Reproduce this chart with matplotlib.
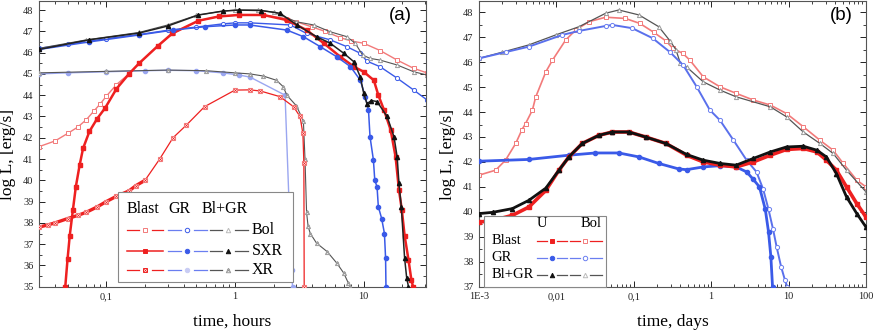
import numpy as np
import matplotlib
matplotlib.use("Agg")
import matplotlib.pyplot as plt
from matplotlib.lines import Line2D
from matplotlib.patches import Rectangle
from matplotlib.ticker import LogLocator, NullFormatter, MultipleLocator

plt.rcParams['font.family'] = ['Liberation Serif', 'DejaVu Serif']

# ---------------- Panel (a): time in hours ----------------
a_blast_bol_t = [0.03, 0.04, 0.05, 0.06, 0.07, 0.08, 0.09, 0.1, 0.12, 0.15, 0.18, 0.25, 0.33, 0.52, 0.75,
                 1.07, 1.66, 2.5, 3.0, 4.0, 5.0, 6.6, 8.0, 10, 13.4, 18.2, 24.5, 31]
a_blast_bol_L = [41.58, 41.85, 42.2, 42.5, 42.85, 43.25, 43.6, 43.95, 44.5, 45.0, 45.5, 46.3, 46.9, 47.5, 47.7,
                 47.77, 47.77, 47.6, 47.45, 47.2, 47.0, 46.7, 46.55, 46.44, 46.1, 45.65, 45.26, 45.05]

a_blast_sxr_t = [0.048, 0.05, 0.052, 0.055, 0.058, 0.062, 0.066, 0.074, 0.085, 0.098, 0.12, 0.15, 0.18, 0.25,
                 0.325, 0.52, 0.75, 1.07, 1.66, 2.53, 3.6, 4.9, 6.6, 8.4, 10, 12, 13.0, 14.4, 16.2, 17.7,
                 18.8, 19.8, 20.8, 22.3, 23.5, 24.2]
a_blast_sxr_L = [35.0, 36.3, 37.4, 38.6, 39.7, 40.7, 41.5, 42.3, 42.9, 43.4, 44.3, 45.0, 45.5, 46.3,
                 46.9, 47.5, 47.7, 47.77, 47.77, 47.53, 47.06, 46.44, 45.8, 45.34, 45.1, 44.7, 44.0, 43.3, 42.37, 41.1,
                 39.55, 38.6, 37.4, 36.26, 35.3, 35.0]

a_blast_xr_t = [0.03, 0.035, 0.04, 0.05, 0.06, 0.07, 0.085, 0.1, 0.12, 0.15, 0.17, 0.2, 0.26, 0.33, 0.42, 0.58,
                1.0, 1.3, 1.57, 2.24, 2.85, 3.2, 3.37, 3.43, 3.45]
a_blast_xr_L = [37.8, 37.9, 38.0, 38.2, 38.35, 38.5, 38.75, 39.0, 39.25, 39.5, 39.75, 40.0, 41.0, 42.0, 42.6, 43.46,
                44.24, 44.25, 44.2, 43.93, 43.46, 43.0, 42.2, 40.8, 35.0]

a_gr_bol_t = [0.03, 0.05, 0.1, 0.18, 0.3, 0.5, 0.8, 1.0, 1.3, 2.7, 3.6, 5.5, 7.4, 9.4, 10.6, 13.4, 18.2, 24.5, 31]
a_gr_bol_L = [46.2, 46.4, 46.65, 46.85, 47.05, 47.2, 47.35, 47.4, 47.4, 47.3, 46.9, 46.6, 46.28, 45.97, 45.6,
              45.34, 44.8, 44.24, 43.78]

a_gr_sxr_t = [0.03, 0.073, 0.18, 0.33, 0.59, 1.0, 1.3, 2.53, 3.4, 4.6, 6.2, 7.9, 9.4, 10.3, 10.9, 11.2, 11.9,
              12.2, 12.7, 13.0, 13.8, 14.5, 14.8, 14.9]
a_gr_sxr_L = [46.15, 46.5, 46.83, 47.06, 47.22, 47.3, 47.3, 47.06, 46.75, 46.28, 45.8, 45.34, 44.71, 43.93, 43.3,
              42.05, 40.96, 40.0, 39.7, 38.76, 38.2, 37.5, 36.34, 35.0]

a_gr_xr_t = [0.03, 0.05, 0.1, 0.2, 0.3, 0.5, 0.8, 1.07, 1.31, 2.45, 2.75, 2.8]
a_gr_xr_L = [45.0, 45.05, 45.1, 45.15, 45.17, 45.15, 45.05, 44.95, 44.85, 44.0, 35.8, 35.0]

a_blgr_bol_t = [0.03, 0.07, 0.18, 0.3, 0.5, 0.8, 1.0, 1.5, 2.0, 3.0, 4.1, 5.5, 7.4, 8.6, 9.8, 11.2, 13.4,
                18.2, 24.5, 31]
a_blgr_bol_L = [46.2, 46.6, 46.95, 47.3, 47.75, 47.95, 48.0, 48.0, 47.9, 47.45, 47.3, 46.98, 46.75, 46.44, 45.89,
                45.73, 45.65, 45.42, 45.1, 44.95]

a_blgr_sxr_t = [0.03, 0.073, 0.18, 0.3, 0.52, 0.8, 1.07, 1.6, 2.24, 3.03, 4.3, 5.5, 7.0, 8.4, 9.4, 10.0, 10.6,
                11.5, 12.7, 15.2, 17.2, 18.2, 18.8, 19.6, 20.8, 21.6, 22.3]
a_blgr_sxr_L = [46.15, 46.6, 46.92, 47.25, 47.77, 47.95, 48.0, 47.98, 47.85, 47.3, 46.75, 46.44, 45.97, 45.57,
                44.87, 44.1, 43.6, 43.75, 43.7, 43.0, 42.05, 41.1, 39.86, 38.76, 36.34, 35.4, 35.0]

a_blgr_xr_t = [0.03, 0.1, 0.3, 0.6, 1.0, 1.31, 1.66, 2.1, 2.37, 2.53, 3.0, 3.4, 3.5, 3.6, 3.7, 3.85, 4.3, 5.2,
               6.2, 7.0, 7.6, 7.8]
a_blgr_xr_L = [45.05, 45.12, 45.18, 45.15, 45.05, 45.0, 44.9, 44.7, 44.4, 44.0, 43.5, 42.8, 41.0, 38.5, 37.83,
               37.5, 37.05, 36.65, 36.1, 35.64, 35.17, 35.0]

# ---------------- Panel (b): time in days ----------------
b_u_t = [1e-3, 1.5e-3, 2.7e-3, 4.4e-3, 7.3e-3, 0.0108, 0.0145, 0.0216, 0.0356, 0.053, 0.0867, 0.142, 0.26,
         0.48, 0.79, 1.3, 2.1, 3.5, 5.8, 9.4, 15.5, 23.2, 30.8, 41.5, 56, 76, 100]
b_blast_u_L = [39.59, 39.65, 39.86, 40.19, 40.86, 41.67, 42.2, 42.74, 43.07, 43.2, 43.2, 43.0, 42.74,
               42.27, 42.0, 41.87, 41.8, 42.0, 42.27, 42.5, 42.54, 42.4, 42.07, 41.67, 41.0, 40.33, 39.79]
b_blgr_u_L = [39.93, 39.98, 40.13, 40.46, 40.95, 41.67, 42.2, 42.74, 43.07, 43.2, 43.2, 43.0, 42.74,
              42.3, 42.07, 41.94, 41.87, 42.14, 42.4, 42.6, 42.63, 42.47, 42.2, 41.53, 40.6, 39.93, 39.39]

b_gr_u_t = [1e-3, 4.4e-3, 0.0145, 0.032, 0.064, 0.117, 0.21, 0.38, 0.48, 0.79, 1.3, 2.1, 2.87, 3.5, 4.2, 5.0,
            5.5, 5.9, 6.2]
b_gr_u_L = [42.03, 42.1, 42.27, 42.36, 42.36, 42.2, 41.94, 41.72, 41.69, 41.8, 41.85, 41.8, 41.6, 41.3, 41.0,
            40.1, 39.2, 38.2, 37.0]

b_gr_bol_t = [1e-3, 2.2e-3, 4.4e-3, 0.0119, 0.0196, 0.0434, 0.053, 0.0955, 0.175, 0.294, 0.434, 0.65, 0.96,
              1.3, 1.94, 2.87, 3.85, 4.7, 5.5, 6.3, 7.0, 8.0, 9.0, 9.6]
b_gr_bol_L = [46.15, 46.4, 46.62, 47.09, 47.25, 47.45, 47.49, 47.36, 46.96, 46.4, 45.88, 45.01, 44.08,
              43.67, 42.87, 42.07, 41.6, 40.9, 40.1, 39.3, 38.6, 37.8, 37.25, 37.0]

b_blast_bol_t = [1e-3, 1.64e-3, 2.2e-3, 2.98e-3, 3.6e-3, 4.0e-3, 4.9e-3, 5.4e-3, 7.3e-3, 8.9e-3, 0.0132,
                 0.0178, 0.0263, 0.0434, 0.078, 0.12, 0.18, 0.26, 0.32, 0.43, 0.53, 0.79, 1.3, 2.1, 3.5, 5.8,
                 9.4, 15.5, 25.4, 37.6, 50.8, 76, 100]
b_blast_bol_L = [41.47, 41.67, 42.07, 42.74, 43.3, 43.54, 44.08, 44.6, 45.61, 46.08, 46.89,
                 47.29, 47.62, 47.8, 47.75, 47.55, 47.2, 46.85, 46.55, 46.35, 46.08, 45.41, 45.01, 44.75, 44.48,
                 44.28, 43.94, 43.41, 42.87, 42.47, 41.94, 41.27, 41.0]

b_blgr_bol_t = [1e-3, 2e-3, 4.4e-3, 0.01, 0.0196, 0.0434, 0.064, 0.117, 0.21, 0.294, 0.35, 0.4, 0.48, 0.79,
                1.3, 2.1, 5.8, 9.4, 15.5, 25.4, 37.6, 56, 100]
b_blgr_bol_L = [46.15, 46.4, 46.69, 47.1, 47.42, 47.96, 48.09, 47.89, 47.42, 46.85, 46.5, 45.95, 45.81, 45.21,
                44.88, 44.61, 44.21, 43.81, 43.2, 42.74, 42.34, 41.67, 40.8]

# ---------------- colours ----------------
RED = '#ee2020'
PINK = '#f27a7a'
BLUE = '#3a5ae8'
LBLUE = '#9aa6f0'
BLACK = '#111111'
GRAY = '#9a9a9a'
DGRAY = '#555555'

W, H = 873, 331
fig = plt.figure(figsize=(W / 100, H / 100), dpi=100)


def fx(x):
    return x / W


def fy(y):
    return 1 - y / H


ax_a = fig.add_axes([39 / W, (H - 286.7) / H, 387 / W, 286.2 / H])
ax_b = fig.add_axes([479 / W, (H - 286.7) / H, 387 / W, 286.2 / H])

ms = 3.0
# Panel a curves
ax_a.plot(a_blast_bol_t, a_blast_bol_L, color=PINK, lw=1.0, marker='s', ms=ms, mfc='white', mec=PINK, mew=0.7, zorder=2)
ax_a.plot(a_gr_bol_t, a_gr_bol_L, color=BLUE, lw=1.0, marker='o', ms=ms, mfc='white', mec=BLUE, mew=0.7, zorder=2)
ax_a.plot(a_blgr_bol_t, a_blgr_bol_L, color=DGRAY, lw=0.8, marker='^', ms=ms, mfc='white', mec=GRAY, mew=0.7, zorder=2)

ax_a.plot(a_gr_xr_t, a_gr_xr_L, color=LBLUE, lw=1.0, marker='o', ms=ms, mfc=LBLUE, mec=LBLUE, zorder=3)
ax_a.plot(a_blgr_xr_t, a_blgr_xr_L, color=DGRAY, lw=0.8, marker='^', ms=ms, mfc='white', mec=GRAY, mew=0.7, zorder=3)
ax_a.plot(a_blgr_xr_t, a_blgr_xr_L, ls='none', marker='x', ms=2, mec=GRAY, mew=0.5, zorder=3)
# early part of the Blast XR curve is a dense band of points
ax_a.plot(a_blast_xr_t[:12], a_blast_xr_L[:12], color=RED, lw=2.4, solid_capstyle='round', zorder=3)
ax_a.plot(a_blast_xr_t, a_blast_xr_L, color=RED, lw=0.9, marker='s', ms=ms, mfc='white', mec=PINK, mew=0.8, zorder=3)
ax_a.plot(a_blast_xr_t, a_blast_xr_L, ls='none', marker='x', ms=2, mec=RED, mew=0.5, zorder=3)

ax_a.plot(a_blast_sxr_t, a_blast_sxr_L, color=RED, lw=1.8, marker='s', ms=ms, mfc=RED, mec=RED, zorder=4)
ax_a.plot(a_gr_sxr_t, a_gr_sxr_L, color=BLUE, lw=1.1, marker='o', ms=ms, mfc=BLUE, mec=BLUE, zorder=4)
ax_a.plot(a_blgr_sxr_t, a_blgr_sxr_L, color='#222222', lw=1.1, marker='^', ms=ms, mfc=BLACK, mec=BLACK, zorder=5)

# Panel b curves
ax_b.plot(b_blast_bol_t, b_blast_bol_L, color=PINK, lw=1.2, marker='s', ms=ms, mfc='white', mec=PINK, mew=0.7, zorder=2)
ax_b.plot(b_blgr_bol_t, b_blgr_bol_L, color=DGRAY, lw=0.9, marker='^', ms=ms, mfc='white', mec=GRAY, mew=0.7, zorder=2)
ax_b.plot(b_gr_bol_t, b_gr_bol_L, color='#5a70ec', lw=1.4, marker='o', ms=ms, mfc='white', mec='#6a7ef0', mew=0.7, zorder=2)
ax_b.plot(b_gr_u_t, b_gr_u_L, color=BLUE, lw=2.0, marker='o', ms=ms, mfc=BLUE, mec=BLUE, zorder=3)
ax_b.plot(b_u_t, b_blast_u_L, color=RED, lw=2.6, marker='s', ms=ms, mfc=RED, mec=RED, zorder=3)
ax_b.plot(b_u_t, b_blgr_u_L, color=BLACK, lw=2.0, marker='^', ms=ms, mfc=BLACK, mec=BLACK, zorder=4)

# Axes formatting
for ax in (ax_a, ax_b):
    ax.set_xscale('log')
    ax.yaxis.set_minor_locator(MultipleLocator(0.5))
    ax.xaxis.set_minor_locator(LogLocator(base=10, subs=np.arange(2, 10)))
    ax.xaxis.set_minor_formatter(NullFormatter())
    ax.tick_params(which='both', direction='in', top=True, right=True, labelsize=7.5, colors='#222222', pad=4)
    ax.tick_params(which='major', length=4, width=0.7)
    ax.tick_params(which='minor', length=2.2, width=0.6)
    for s in ax.spines.values():
        s.set_color('#555555')
        s.set_linewidth(0.8)

ax_a.set_xlim(0.03, 30.5)
ax_a.set_ylim(35, 48.45)
ax_a.set_yticks(np.arange(35, 49))
ax_a.set_xticks([0.1, 1, 10], labels=['0,1', '1', '10'])

ax_b.set_xlim(1e-3, 100)
ax_b.set_ylim(37, 48.47)
ax_b.set_yticks(np.arange(37, 49))
ax_b.set_xticks([1e-3, 1e-2, 0.1, 1, 10, 100], labels=['1E-3', '0,01', '0,1', '1', '10', '100'])

ax_a.set_xlabel('time, hours', fontsize=12.5)
ax_b.set_xlabel('time, days', fontsize=12.5)
ax_a.set_ylabel('log L, [erg/s]', fontsize=12.5)
ax_b.set_ylabel('log L, [erg/s]', fontsize=12.5)
for ax in (ax_a, ax_b):
    ax.xaxis.set_label_coords(0.5, 1 - (321.7 - 0.5) / 286.2)
    ax.xaxis.label.set_va('center')
    ax.yaxis.set_label_coords((8 - 39) / 387, 1 - (155 - 0.5) / 286.2)
    ax.yaxis.label.set_va('center')

fig.text(fx(400), fy(16), '(a)', fontsize=13.5, family=['Liberation Sans', 'DejaVu Sans'], ha='center', va='center')
fig.text(fx(841.7), fy(16), '(b)', fontsize=13.5, family=['Liberation Sans', 'DejaVu Sans'], ha='center', va='center')


# ---------------- legends (drawn by hand) ----------------
def box(x0, y0, x1, y1):
    fig.add_artist(Rectangle((fx(x0), fy(y1)), (x1 - x0) / W, (y1 - y0) / H, transform=fig.transFigure,
                             facecolor='white', edgecolor='#888888', lw=0.8, zorder=5))


def seg(x0, x1, y, color, lw=0.9):
    fig.add_artist(Line2D([fx(x0), fx(x1)], [fy(y), fy(y)], color=color, lw=lw, zorder=6))


def mark(x, y, marker, mfc, mec, size=3.2, mew=0.7):
    fig.add_artist(Line2D([fx(x)], [fy(y)], marker=marker, ms=size, mfc=mfc, mec=mec, mew=mew, ls='none', zorder=7))


# Panel a legend
box(118.3, 191.7, 293.3, 281.7)
lfs = 11.5
fig.text(fx(126.7), fy(209), 'Blast', fontsize=lfs, va='center', ha='left', zorder=8)
fig.text(fx(168.3), fy(209), 'GR', fontsize=lfs, va='center', ha='left', zorder=8)
fig.text(fx(201.7), fy(209), 'Bl+GR', fontsize=lfs, va='center', ha='left', zorder=8)
rows = [('Bol', 230), ('SXR', 250.7), ('XR', 270)]
for name, y in rows:
    fig.text(fx(251.7), fy(y), name, fontsize=lfs, va='center', ha='left', zorder=8)
cols = [(126.7, 145, 163.3, RED), (168.3, 187.3, 206.7, '#6a7ef0'), (210, 228.3, 248.3, DGRAY)]
for (x0, xm, x1, c) in cols:
    for name, y in rows:
        if name == 'SXR' and c == RED:
            seg(x0, x1, y, c, lw=1.1)
        else:
            seg(x0, xm - 6.5, y, c)
            seg(xm + 6.5, x1, y, c)
# markers
mark(145, 230, 's', 'white', PINK)
mark(187.3, 230, 'o', 'white', BLUE)
mark(228.3, 230, '^', 'white', '#bbbbbb')
mark(145, 250.7, 's', RED, RED)
mark(187.3, 250.7, 'o', BLUE, BLUE)
mark(228.3, 250.7, '^', BLACK, BLACK)
mark(145, 270, 's', 'white', RED)
mark(145, 270, 'x', 'none', RED, size=2, mew=0.5)
mark(187.3, 270, 'o', '#c8ccf4', '#c8ccf4')
mark(228.3, 270, '^', 'white', GRAY)
mark(228.3, 270, 'x', 'none', GRAY, size=2, mew=0.5)

# Panel b legend
box(484.3, 216, 605.7, 286.7)
lfs_b = 10.5
fig.text(fx(541.7), fy(223.5), 'U', fontsize=lfs_b, va='center', ha='center', zorder=8)
fig.text(fx(590.7), fy(223.5), 'Bol', fontsize=lfs_b, va='center', ha='center', zorder=8)
rows_b = [('Blast', 240.7, RED, 's', RED, 'white', PINK),
          ('GR', 257.7, '#6a7ef0', 'o', BLUE, 'white', '#6a7ef0'),
          ('Bl+GR', 275, DGRAY, '^', BLACK, 'white', '#bbbbbb')]
for name, y, c, mk, fcu, fcb, ecb in rows_b:
    fig.text(fx(491.7), fy(y), name, fontsize=lfs_b, va='center', ha='left', zorder=8)
    seg(536.7, 546.7, y, c)
    seg(557.3, 566.7, y, c)
    seg(570, 580, y, c)
    seg(590, 601.7, y, c)
    mark(551.7, y, mk, fcu, fcu)
    mark(585, y, mk, fcb, ecb)

fig.savefig('out.png', dpi=100)
